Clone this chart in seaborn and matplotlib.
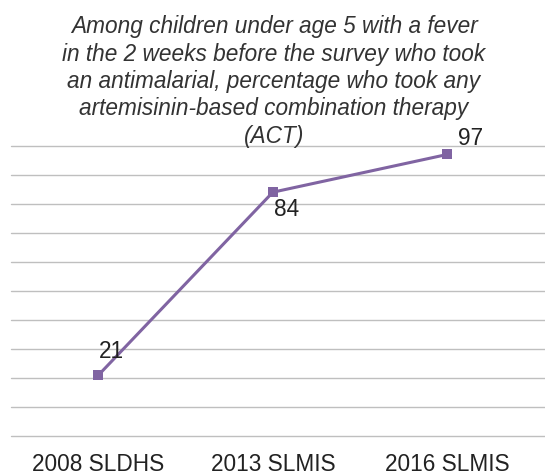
import matplotlib
matplotlib.use("Agg")
import matplotlib.pyplot as plt
import seaborn as sns
import pandas as pd

surveys = ["2008 SLDHS", "2013 SLMIS", "2016 SLMIS"]
values = [21, 84, 97]
title_lines = ["Among children under age 5 with a fever",
               "in the 2 weeks before the survey who took",
               "an antimalarial, percentage who took any",
               "artemisinin-based combination therapy",
               "(ACT)"]

sns.set_theme(style="white")
plt.rcParams['font.family'] = ['Liberation Sans', 'DejaVu Sans']

df = pd.DataFrame({"survey": surveys, "value": values})
W, H = 545, 476
fig = plt.figure(figsize=(W / 100, H / 100), dpi=100)
ax = fig.add_axes([11 / W, 1 - 436.3 / H, (545 - 11) / W, (436.3 - 145.7) / H])

purple = "#8064A2"
sns.lineplot(data=df, x="survey", y="value", ax=ax, color=purple, linewidth=2.2,
             marker="s", markersize=7, markeredgewidth=0, sort=False)

ax.set_ylim(0, 100)
ax.set_yticks(range(0, 101, 10))
ax.set_xlim(-0.5, (545 - 97.7) / 174.8)
ax.yaxis.grid(True, color="#BFBFBF", linewidth=1.0)
for gl in ax.yaxis.get_gridlines():
    gl.set_clip_on(False)
ax.xaxis.grid(False)
ax.set_axisbelow(True)
for s in ax.spines.values():
    s.set_visible(False)
ax.set_yticklabels([])
ax.tick_params(axis="y", length=0)
ax.tick_params(axis="x", length=0, pad=12, labelsize=16.3, labelcolor="#222222")
ax.set_xlabel("")
ax.set_ylabel("")

offsets = [(9.6, 17), (9.6, -12.2), (16.8, 11.6)]
for i, (v, off) in enumerate(zip(values, offsets)):
    ax.annotate(str(v), (i, v), xytext=off, textcoords="offset points",
                ha="center", va="center", fontsize=16.3, color="#222222")

for k, line in enumerate(title_lines):
    y_px = 33 + 27.5 * k
    fig.text(274 / W, 1 - y_px / H, line, ha="center", va="baseline", fontsize=16.3,
             style="italic", color="#333333")

fig.savefig("out.png", dpi=100)
